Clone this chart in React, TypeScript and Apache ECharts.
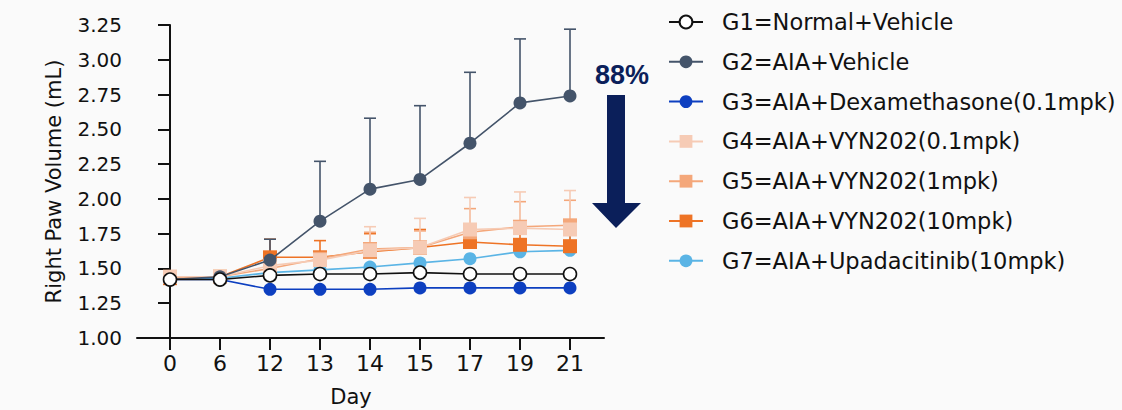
import React, { useEffect, useRef } from "react";
import * as echarts from "echarts";

const days = ["0", "6", "12", "13", "14", "15", "17", "19", "21"];
const yTicks = [1.0, 1.25, 1.5, 1.75, 2.0, 2.25, 2.5, 2.75, 3.0, 3.25];

const groupNames = [
  "G1=Normal+Vehicle",
  "G2=AIA+Vehicle",
  "G3=AIA+Dexamethasone(0.1mpk)",
  "G4=AIA+VYN202(0.1mpk)",
  "G5=AIA+VYN202(1mpk)",
  "G6=AIA+VYN202(10mpk)",
  "G7=AIA+Upadacitinib(10mpk)",
];

const g1 = [1.42, 1.42, 1.45, 1.46, 1.46, 1.47, 1.46, 1.46, 1.46];
const g2 = [1.42, 1.44, 1.56, 1.84, 2.07, 2.14, 2.4, 2.69, 2.74];
const g3 = [1.42, 1.42, 1.35, 1.35, 1.35, 1.36, 1.36, 1.36, 1.36];
const g4 = [1.44, 1.44, 1.52, 1.56, 1.63, 1.65, 1.78, 1.79, 1.78];
const g5 = [1.44, 1.44, 1.5, 1.57, 1.64, 1.65, 1.76, 1.8, 1.81];
const g6 = [1.43, 1.44, 1.58, 1.58, 1.62, 1.65, 1.69, 1.67, 1.66];
const g7 = [1.43, 1.43, 1.47, 1.49, 1.51, 1.54, 1.57, 1.62, 1.63];

// upper error bar ends (mean + SEM)
const g1Err = [null, null, null, null, null, null, null, null, null];
const g2Err = [null, null, 1.71, 2.27, 2.58, 2.67, 2.91, 3.15, 3.22];
const g3Err = [null, null, null, null, null, null, null, null, null];
const g4Err = [null, null, 1.56, 1.62, 1.8, 1.86, 2.01, 2.05, 2.06];
const g5Err = [null, null, 1.55, 1.61, 1.76, 1.77, 1.93, 1.98, 1.99];
const g6Err = [null, null, 1.71, 1.7, 1.75, 1.78, 1.78, 1.76, 1.75];
const g7Err = [null, null, null, null, null, null, null, null, 1.84];

const percentLabel = "88%";
const xAxisName = "Day";
const yAxisName = "Right Paw Volume (mL)";

const colors = ["#111111", "#44546a", "#0d3fc0", "#f6cbb5", "#f4a77a", "#ee7325", "#5ab4e5"];
const symbols = ["circle", "circle", "circle", "rect", "rect", "rect", "circle"];
const means = [g1, g2, g3, g4, g5, g6, g7];
const errs = [g1Err, g2Err, g3Err, g4Err, g5Err, g6Err, g7Err];

const FONT = "DejaVu Sans";

export default function App() {
  const ref = useRef<HTMLDivElement>(null);
  useEffect(() => {
    document.body.style.margin = "0";
    const chart = echarts.init(ref.current!, null, { renderer: "svg" });
    const series: any[] = [];
    means.forEach((m, gi) => {
      const color = colors[gi];
      const errData = m
        .map((v, i) => (errs[gi][i] == null ? null : [i, v, errs[gi][i]]))
        .filter((d) => d !== null);
      if (errData.length) {
        series.push({
          type: "custom",
          name: groupNames[gi] + " err",
          z: 2 + (7 - gi) * 0.01,
          encode: { x: 0, y: [1, 2] },
          data: errData,
          renderItem: (params: any, api: any) => {
            const x = api.value(0);
            const p0 = api.coord([x, api.value(1)]);
            const p1 = api.coord([x, api.value(2)]);
            return {
              type: "group",
              children: [
                {
                  type: "line",
                  shape: { x1: p0[0], y1: p0[1], x2: p1[0], y2: p1[1] },
                  style: { stroke: color, lineWidth: 1.6 },
                },
                {
                  type: "line",
                  shape: { x1: p1[0] - 6, y1: p1[1], x2: p1[0] + 6, y2: p1[1] },
                  style: { stroke: color, lineWidth: 1.6 },
                },
              ],
            };
          },
        });
      }
      series.push({
        type: "line",
        name: groupNames[gi],
        z: 3 + (7 - gi),
        data: m.map((v, i) => [i, v]),
        symbol: symbols[gi],
        symbolSize: symbols[gi] === "rect" ? 14 : 13,
        lineStyle: { color, width: 1.6 },
        itemStyle:
          gi === 0
            ? { color: "#ffffff", borderColor: "#111111", borderWidth: 1.6 }
            : { color, borderWidth: 0 },
        emphasis: { disabled: true },
      });
    });

    chart.setOption({
      animation: false,
      backgroundColor: "#fafafa",
      grid: { left: 137, right: 518, top: 25, bottom: 72 },
      xAxis: {
        type: "value",
        min: -0.66,
        max: 8.68,
        axisLine: { show: true, lineStyle: { color: "#111", width: 2 } },
        axisTick: {
          show: true,
          length: 12,
          customValues: days.map((_, i) => i),
          lineStyle: { color: "#111", width: 2 },
        },
        axisLabel: {
          customValues: days.map((_, i) => i),
          formatter: (v: number) => days[Math.round(v)] ?? "",
          margin: 14,
          fontFamily: FONT,
          fontSize: 22,
          color: "#111",
        },
        splitLine: { show: false },
      },
      yAxis: {
        type: "value",
        min: 1,
        max: 3.25,
        interval: 0.25,
        name: yAxisName,
        nameLocation: "middle",
        nameGap: 73,
        nameTextStyle: { fontFamily: FONT, fontSize: 21, color: "#111" },
        axisLine: { show: true, lineStyle: { color: "#111", width: 2 } },
        axisTick: { show: true, length: 12, lineStyle: { color: "#111", width: 2 } },
        axisLabel: {
          margin: 15,
          formatter: (v: number) => v.toFixed(2),
          fontFamily: FONT,
          fontSize: 20,
          color: "#111",
        },
        splitLine: { show: false },
      },
      legend: {
        orient: "vertical",
        left: 668,
        top: 10,
        padding: 0,
        itemWidth: 34,
        itemHeight: 16,
        itemGap: 15.8,
        data: groupNames,
        selectedMode: false,
        textStyle: {
          fontFamily: FONT,
          fontSize: 22.5,
          lineHeight: 24,
          color: "#111",
          padding: [0, 0, 0, 14],
        },
      },
      graphic: [
        {
          type: "polygon",
          shape: {
            points: [
              [607, 95],
              [625, 95],
              [625, 203],
              [641, 203],
              [616, 228],
              [592, 203],
              [607, 203],
            ],
          },
          style: { fill: "#0b1f5a" },
        },
        {
          type: "text",
          x: 622,
          y: 75,
          style: {
            text: percentLabel,
            fontFamily: "Liberation Sans",
            fontWeight: "bold",
            fontSize: 27,
            fill: "#0b1f5a",
            align: "center",
            verticalAlign: "middle",
          },
        },
        {
          type: "text",
          x: 351,
          y: 397,
          style: {
            text: xAxisName,
            fontFamily: FONT,
            fontSize: 21,
            fill: "#111",
            align: "center",
            verticalAlign: "middle",
          },
        },
      ],
      series,
    });
    return () => chart.dispose();
  }, []);
  return <div ref={ref} style={{ width: 1122, height: 410 }} />;
}
